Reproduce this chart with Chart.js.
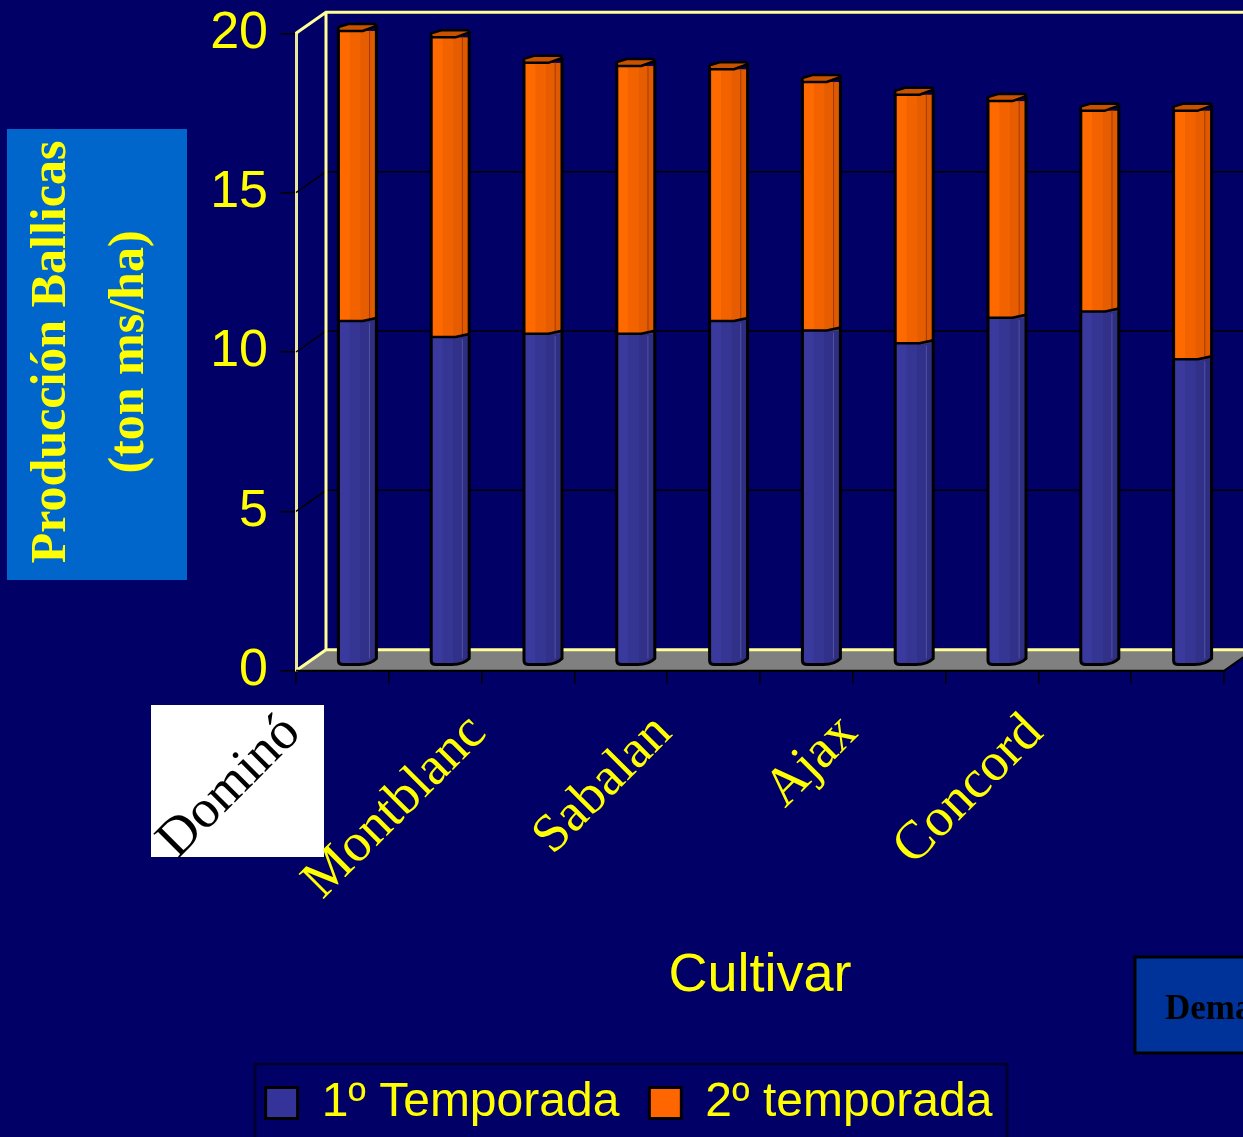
<!DOCTYPE html>
<html>
<head>
<meta charset="utf-8">
<script src="https://cdn.jsdelivr.net/npm/chart.js"></script>
<style>
  body { margin: 0; background: #000066; }
  canvas { display: block; }
</style>
</head>
<body>
<canvas id="graficoBallicas" width="1243" height="1137"></canvas>
<script>
// datos (ton ms/ha)
const cultivares = ['Dominó', '', 'Montblanc', '', 'Sabalan', '', 'Ajax', '', 'Concord', ''];
const temporada1 = [10.8, 10.3, 10.4, 10.4, 10.8, 10.5, 10.1, 10.9, 11.1, 9.6];
const temporada2 = [9.1, 9.4, 8.5, 8.4, 7.9, 7.8, 7.8, 6.8, 6.3, 7.8];
const ticksY = [0, 5, 10, 15, 20];
const nombresSeries = ['1º Temporada', '2º temporada'];

const AMARILLO = '#FFFF00';
const PROF_X = 30, PROF_Y = -21;      // profundidad del efecto 3D
const BARRA_DX = 15, BARRA_DY = -5.5; // barras a media profundidad

const AZULES = ['#3a3a9e', '#353594', '#31318a', '#2e2e82'];
const NARANJAS = ['#FF6A00', '#F26300', '#E55D00', '#DE5900'];

function franjas(ctx, L, w, top, bot, colores) {
  const cortes = [0, 0.3, 0.58, 0.82, 1];
  colores.forEach((c, k) => {
    ctx.fillStyle = c;
    ctx.fillRect(L + cortes[k] * w, top, (cortes[k + 1] - cortes[k]) * w + 0.5, bot - top);
  });
}

const fondo = {
  id: 'fondo',
  beforeDraw(chart) {
    const { ctx, width, height } = chart;
    ctx.save();
    ctx.fillStyle = '#000066';
    ctx.fillRect(0, 0, width, height);
    // caja del titulo del eje y
    ctx.fillStyle = '#0066CC';
    ctx.fillRect(7, 129, 180, 451);
    // recuadro blanco de Dominó
    ctx.fillStyle = '#FFFFFF';
    ctx.fillRect(151, 705, 173, 152);
    // marco de la leyenda
    ctx.strokeStyle = '#000033';
    ctx.lineWidth = 3;
    ctx.strokeRect(255, 1064, 752, 80);
    // cuadro cortado a la derecha
    ctx.fillStyle = '#003399';
    ctx.fillRect(1135, 957, 120, 96);
    ctx.strokeStyle = '#000';
    ctx.lineWidth = 3;
    ctx.strokeRect(1135, 957, 120, 96);
    ctx.fillStyle = '#000';
    ctx.font = 'bold 35px "Liberation Serif"';
    ctx.textAlign = 'left';
    ctx.textBaseline = 'alphabetic';
    ctx.fillText('Demanda', 1165, 1019);
    ctx.restore();
  }
};

const escena3d = {
  id: 'escena3d',
  beforeDatasetsDraw(chart) {
    const { ctx, chartArea: a, scales: { y } } = chart;
    ctx.save();
    // piso
    ctx.fillStyle = '#808080';
    ctx.beginPath();
    ctx.moveTo(a.left, a.bottom);
    ctx.lineTo(a.right, a.bottom);
    ctx.lineTo(a.right + PROF_X, a.bottom + PROF_Y);
    ctx.lineTo(a.left + PROF_X, a.bottom + PROF_Y);
    ctx.closePath();
    ctx.fill();
    // lineas de division en la pared
    ctx.strokeStyle = '#000';
    ctx.lineWidth = 1.5;
    ticksY.slice(1, -1).forEach(v => {
      const yy = y.getPixelForValue(v);
      ctx.beginPath();
      ctx.moveTo(a.left, yy);
      ctx.lineTo(a.left + PROF_X, yy + PROF_Y);
      ctx.lineTo(chart.width, yy + PROF_Y);
      ctx.stroke();
    });
    // bordes amarillos de las paredes
    ctx.strokeStyle = '#FFFF99';
    ctx.lineWidth = 3;
    ctx.beginPath();
    ctx.moveTo(a.left, a.top);
    ctx.lineTo(a.left + PROF_X, a.top + PROF_Y);
    ctx.lineTo(chart.width, a.top + PROF_Y);
    ctx.moveTo(a.left + PROF_X, a.top + PROF_Y);
    ctx.lineTo(a.left + PROF_X, a.bottom + PROF_Y);
    ctx.lineTo(a.right + PROF_X, a.bottom + PROF_Y);
    ctx.moveTo(a.left, a.bottom);
    ctx.lineTo(a.left + PROF_X, a.bottom + PROF_Y);
    ctx.stroke();
    // borde frontal del piso
    ctx.strokeStyle = '#000';
    ctx.lineWidth = 2;
    ctx.beginPath();
    ctx.moveTo(a.left, a.bottom);
    ctx.lineTo(a.right, a.bottom);
    ctx.lineTo(a.right + PROF_X, a.bottom + PROF_Y);
    ctx.stroke();
    ctx.restore();

    ctx.save();
    ctx.translate(BARRA_DX, BARRA_DY);
  },
  afterDatasetsDraw(chart) {
    const { ctx } = chart;
    const m1 = chart.getDatasetMeta(0).data;
    const m2 = chart.getDatasetMeta(1).data;
    m1.forEach((b1, i) => {
      const b2 = m2[i];
      const w = b1.width, L = b1.x - w / 2, R = b1.x + w / 2;
      const base = b1.base, yb = b1.y, yt = b2.y;
      franjas(ctx, L, w, yb, base, AZULES);
      franjas(ctx, L, w, yt, yb, NARANJAS);
      // cuña azul en la union
      ctx.fillStyle = AZULES[3];
      ctx.beginPath();
      ctx.moveTo(L + 0.64 * w, yb);
      ctx.lineTo(R, yb - 3);
      ctx.lineTo(R, yb);
      ctx.closePath();
      ctx.fill();
      // base redondeada sobre el piso
      ctx.fillStyle = '#808080';
      ctx.beginPath();
      ctx.moveTo(L - 1, base - 4);
      ctx.quadraticCurveTo(L, base, L + 5, base);
      ctx.lineTo(L + 0.55 * w, base);
      ctx.quadraticCurveTo(L + 0.85 * w, base, R + 1, base - 6);
      ctx.lineTo(R + 1, base + 2);
      ctx.lineTo(L - 1, base + 2);
      ctx.closePath();
      ctx.fill();
      // linea entre cara frontal y lateral
      ctx.strokeStyle = 'rgba(120,40,0,0.6)';
      ctx.lineWidth = 1;
      ctx.beginPath();
      ctx.moveTo(L + 0.82 * w, yt - 3);
      ctx.lineTo(L + 0.82 * w, yb - 2);
      ctx.stroke();
      ctx.strokeStyle = 'rgba(150,150,220,0.35)';
      ctx.beginPath();
      ctx.moveTo(L + 0.82 * w, yb + 2);
      ctx.lineTo(L + 0.82 * w, base - 6);
      ctx.stroke();
      // contorno
      ctx.strokeStyle = '#000';
      ctx.lineWidth = 3;
      ctx.lineJoin = 'round';
      ctx.beginPath();
      ctx.moveTo(L, yt - 3);
      ctx.lineTo(L, base - 4);
      ctx.quadraticCurveTo(L, base, L + 5, base);
      ctx.lineTo(L + 0.55 * w, base);
      ctx.quadraticCurveTo(L + 0.85 * w, base, R, base - 6);
      ctx.lineTo(R, yt - 5);
      ctx.stroke();
      ctx.lineWidth = 2.5;
      ctx.beginPath();
      ctx.moveTo(L, yb);
      ctx.lineTo(L + 0.64 * w, yb);
      ctx.lineTo(R, yb - 3);
      ctx.stroke();
      // tapa superior
      ctx.fillStyle = '#C85200';
      ctx.beginPath();
      ctx.moveTo(L, yt);
      ctx.lineTo(L + 0.64 * w, yt);
      ctx.lineTo(R, yt - 5);
      ctx.lineTo(R - 1, yt - 7);
      ctx.lineTo(L + 0.26 * w, yt - 7);
      ctx.lineTo(L, yt - 4);
      ctx.closePath();
      ctx.fill();
      ctx.stroke();
    });
    ctx.restore();
  }
};

const ctx = document.getElementById('graficoBallicas').getContext('2d');

new Chart(ctx, {
  type: 'bar',
  data: {
    labels: cultivares,
    datasets: [
      {
        label: nombresSeries[0],
        data: temporada1,
        backgroundColor: '#333399',
        borderColor: '#000',
        borderWidth: 3,
        barThickness: 38,
        clip: false
      },
      {
        label: nombresSeries[1],
        data: temporada2,
        backgroundColor: '#FF6600',
        borderColor: '#000',
        borderWidth: 3,
        barThickness: 38,
        clip: false
      }
    ]
  },
  options: {
    responsive: false,
    devicePixelRatio: 1,
    animation: false,
    layout: { padding: { top: 33.3, right: 19, bottom: 0, left: 34 } },
    scales: {
      x: {
        stacked: true,
        grid: { drawOnChartArea: false, tickLength: 13, color: '#000', lineWidth: 1.5, offset: true },
        border: { color: '#000', width: 2 },
        ticks: {
          autoSkip: false,
          minRotation: 45,
          maxRotation: 45,
          labelOffset: -50,
          padding: 18,
          color: c => c.index === 0 ? '#000' : AMARILLO,
          font: { family: '"Liberation Serif", serif', size: 54 }
        },
        title: {
          display: true,
          text: 'Cultivar',
          color: AMARILLO,
          font: { family: '"Liberation Sans", Arial, sans-serif', size: 54 },
          padding: { top: 0, bottom: 40 }
        },
        afterFit(s) {
          s.height = s.chart.height - 670.7 - (s.chart.legend ? s.chart.legend.height : 88);
          s.paddingLeft = 0;
          s.paddingRight = 0;
        }
      },
      y: {
        stacked: true,
        min: 0,
        max: 20,
        afterBuildTicks(s) { s.ticks = ticksY.map(v => ({ value: v })); },
        ticks: {
          color: AMARILLO,
          padding: 12,
          font: { family: '"Liberation Sans", Arial, sans-serif', size: 52 }
        },
        grid: { drawOnChartArea: false, tickLength: 16, color: '#000', lineWidth: 1.5 },
        border: { color: '#E8E89A', width: 3 },
        title: {
          display: true,
          text: ['Producción Ballicas', '(ton ms/ha)'],
          color: AMARILLO,
          font: { family: '"Liberation Serif", serif', size: 50, weight: 'bold', lineHeight: 1.56 },
          padding: { top: -21, bottom: 0 }
        },
        afterFit(s) {
          s.width = 262;
          s.paddingTop = 0;
          s.paddingBottom = 0;
        }
      }
    },
    plugins: {
      tooltip: { enabled: false },
      legend: {
        position: 'bottom',
        labels: {
          color: AMARILLO,
          boxWidth: 32,
          boxHeight: 31,
          padding: 30,
          font: { family: '"Liberation Sans", Arial, sans-serif', size: 48 }
        }
      }
    }
  },
  plugins: [fondo, escena3d]
});
</script>
</body>
</html>
